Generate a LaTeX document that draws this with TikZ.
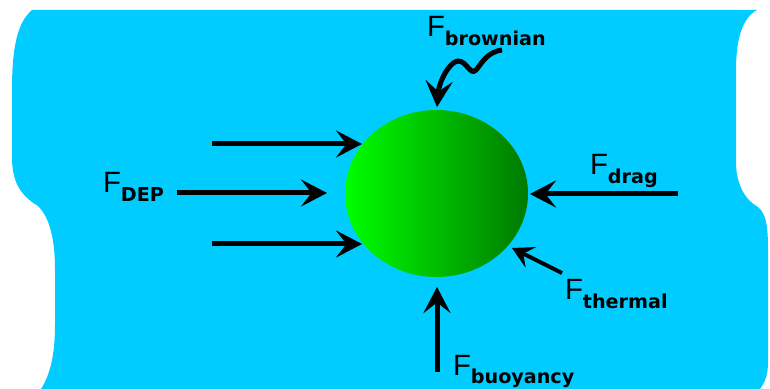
\documentclass[tikz,border=0pt]{standalone}
\usepackage{fontspec}
\setmainfont{Liberation Sans}
\newfontfamily\subfont{DejaVu Sans}
\usepackage{tikz}
\usetikzlibrary{arrows.meta, shapes.geometric}
\definecolor{fluidblue}{RGB}{0, 204, 255}
\definecolor{brightgreen}{RGB}{0, 255, 0}
\definecolor{deepgreen}{RGB}{0, 122, 0}
\newcommand{\forcelab}[1]{{\fontsize{16.7}{20}\selectfont F}\raisebox{-1.7mm}{\fontsize{10.9}{13}\subfont\bfseries #1}}

\begin{document}
\begin{tikzpicture}[
  x=0.2mm, y=-0.2mm,
  force/.style={-{Stealth[length=5.2mm, width=5.4mm, inset=2.1mm]}, line width=1mm, black},
  smallforce/.style={-{Stealth[length=4.2mm, width=4.6mm, inset=1.7mm]}, line width=0.8mm, black},
  flabel/.style={anchor=base west, inner sep=0pt, outer sep=0pt}
]
  \useasboundingbox (0,0) rectangle (770,389);

  % Fluido
  \fill[fluidblue] (32,10) -- (757,10)
    .. controls (742,18) and (736,40) .. (736,70) -- (736,165)
    .. controls (737,185) and (745,200) .. (758,207)
    .. controls (766,214) and (768,225) .. (768,250) -- (768,362)
    .. controls (768,375) and (765,382) .. (760,389) -- (41,389)
    .. controls (50,375) and (55,355) .. (55,325) -- (55,270)
    .. controls (55,240) and (50,218) .. (38,206)
    .. controls (22,196) and (13,185) .. (12,160) -- (12,90)
    .. controls (12,45) and (18,22) .. (32,10) -- cycle;

  % Particella
  \node[ellipse, inner sep=0pt, minimum width=36.6mm, minimum height=33.4mm,
        left color=brightgreen, right color=deepgreen] (particle) at (436.5,193.5) {};

  % Estremi delle frecce
  \coordinate (dep1s) at (212,144);  \coordinate (dep1e) at (362,144);
  \coordinate (dep2s) at (177,193);  \coordinate (dep2e) at (327,193);
  \coordinate (dep3s) at (212,244);  \coordinate (dep3e) at (362,244);
  \coordinate (drags) at (678,194);  \coordinate (drage) at (530,194);
  \coordinate (therms) at (562,273); \coordinate (therme) at (512,248);
  \coordinate (buoys) at (437,372);  \coordinate (buoye) at (437,287);
  \coordinate (browns) at (502,50);  \coordinate (browne) at (437,107);

  % Forze
  \draw[force] (dep1s) -- (dep1e);
  \draw[force] (dep2s) -- (dep2e);
  \draw[force] (dep3s) -- (dep3e);
  \draw[force] (drags) -- (drage);
  \draw[smallforce] (therms) -- (therme);
  \draw[force] (buoys) -- (buoye);
  \draw[force] (browns) .. controls (487,52) and (482,63) .. (476,70)
    .. controls (470,76) and (467,61) .. (458,61)
    .. controls (449,62) and (439,82) .. (browne);

  % Etichette
  \node[flabel] (fbrown) at (427,37) {\forcelab{brownian}};
  \node[flabel] (fdep) at (103,193) {\forcelab{DEP}};
  \node[flabel] (fdrag) at (590,175) {\forcelab{drag}};
  \node[flabel] (ftherm) at (565,300) {\forcelab{thermal}};
  \node[flabel] (fbuoy) at (453,375) {\forcelab{buoyancy}};

\end{tikzpicture}
\end{document}
